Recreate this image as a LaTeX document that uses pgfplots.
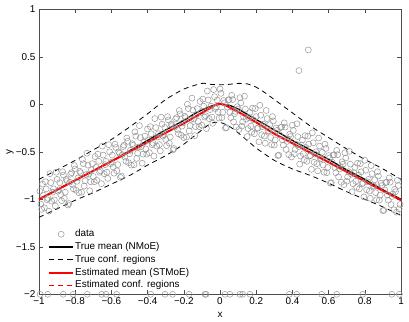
\documentclass[border=0pt]{standalone}
\usepackage{fontspec}
\setmainfont{Liberation Sans}
\usepackage{pgfplots}
\pgfplotsset{compat=1.18}
\newcommand\fs{\fontsize{9.9}{11.8}\selectfont}
\definecolor{datagray}{RGB}{150,150,150}

% x y, scatter of the observations
\pgfplotstableread{
x y
-0.995 -0.915
-0.985 -1.105
-0.975 -0.955
-0.965 -0.815
-0.955 -1.005
-0.945 -1.125
-0.935 -0.825
-0.925 -0.925
-0.915 -1.005
-0.905 -0.715
-0.895 -0.915
-0.885 -0.825
-0.875 -1.015
-0.865 -0.745
-0.855 -0.925
-0.845 -0.805
-0.835 -1.045
-0.825 -0.735
-0.815 -0.845
-0.805 -0.645
-0.795 -0.905
-0.785 -0.775
-0.775 -0.705
-0.765 -0.925
-0.755 -0.625
-0.745 -0.805
-0.735 -0.515
-0.725 -0.735
-0.715 -0.815
-0.705 -0.625
-0.695 -0.815
-0.685 -0.665
-0.675 -0.525
-0.665 -0.715
-0.655 -0.835
-0.645 -0.535
-0.635 -0.635
-0.625 -0.715
-0.615 -0.425
-0.605 -0.625
-0.595 -0.535
-0.585 -0.725
-0.575 -0.455
-0.565 -0.635
-0.555 -0.515
-0.545 -0.755
-0.535 -0.445
-0.525 -0.555
-0.515 -0.355
-0.505 -0.615
-0.495 -0.485
-0.485 -0.415
-0.475 -0.635
-0.465 -0.335
-0.455 -0.515
-0.445 -0.225
-0.435 -0.445
-0.425 -0.525
-0.415 -0.335
-0.405 -0.525
-0.395 -0.375
-0.385 -0.235
-0.375 -0.425
-0.365 -0.545
-0.355 -0.245
-0.345 -0.345
-0.335 -0.425
-0.325 -0.135
-0.315 -0.335
-0.305 -0.245
-0.295 -0.435
-0.285 -0.165
-0.275 -0.345
-0.265 -0.225
-0.255 -0.465
-0.245 -0.155
-0.235 -0.265
-0.225 -0.065
-0.215 -0.325
-0.205 -0.195
-0.195 -0.125
-0.185 -0.345
-0.175 -0.045
-0.165 -0.225
-0.155 0.065
-0.145 -0.155
-0.135 -0.235
-0.125 -0.045
-0.115 -0.235
-0.105 -0.085
-0.095 0.055
-0.085 -0.135
-0.075 -0.255
-0.065 0.045
-0.055 -0.055
-0.045 -0.135
-0.035 0.155
-0.025 -0.045
-0.015 0.045
-0.005 -0.145
0.005 0.115
0.015 -0.085
0.025 0.015
0.035 -0.245
0.045 0.045
0.055 -0.085
0.065 0.095
0.075 -0.185
0.085 -0.075
0.095 -0.025
0.105 -0.265
0.115 0.015
0.125 -0.185
0.135 0.085
0.145 -0.155
0.155 -0.255
0.165 -0.085
0.175 -0.295
0.185 -0.165
0.195 -0.045
0.205 -0.255
0.215 -0.395
0.225 -0.115
0.235 -0.235
0.245 -0.335
0.255 -0.065
0.265 -0.285
0.275 -0.215
0.285 -0.425
0.295 -0.175
0.305 -0.375
0.315 -0.275
0.325 -0.535
0.335 -0.245
0.345 -0.375
0.355 -0.195
0.365 -0.475
0.375 -0.365
0.385 -0.315
0.395 -0.555
0.405 -0.275
0.415 -0.475
0.425 -0.205
0.435 -0.445
0.445 -0.545
0.455 -0.375
0.465 -0.585
0.475 -0.455
0.485 -0.335
0.495 -0.545
0.505 -0.685
0.515 -0.405
0.525 -0.525
0.535 -0.625
0.545 -0.355
0.555 -0.575
0.565 -0.505
0.575 -0.715
0.585 -0.465
0.595 -0.665
0.605 -0.565
0.615 -0.825
0.625 -0.535
0.635 -0.665
0.645 -0.485
0.655 -0.765
0.665 -0.655
0.675 -0.605
0.685 -0.845
0.695 -0.565
0.705 -0.765
0.715 -0.495
0.725 -0.735
0.735 -0.835
0.745 -0.665
0.755 -0.875
0.765 -0.745
0.775 -0.625
0.785 -0.835
0.795 -0.975
0.805 -0.695
0.815 -0.815
0.825 -0.915
0.835 -0.645
0.845 -0.865
0.855 -0.795
0.865 -1.005
0.875 -0.755
0.885 -0.955
0.895 -0.855
0.905 -1.115
0.915 -0.825
0.925 -0.955
0.935 -0.775
0.945 -1.055
0.955 -0.945
0.965 -0.895
0.975 -1.135
0.985 -0.855
0.995 -1.055
-0.99 -1.05
-0.98 -0.84
-0.97 -1.09
-0.96 -0.89
-0.95 -0.99
-0.94 -0.73
-0.93 -1.02
-0.92 -0.89
-0.91 -1.07
-0.90 -0.79
-0.89 -0.90
-0.88 -0.95
-0.87 -0.71
-0.86 -0.99
-0.85 -0.79
-0.84 -1.06
-0.83 -0.82
-0.82 -0.72
-0.81 -0.89
-0.80 -0.68
-0.79 -0.81
-0.78 -0.93
-0.77 -0.72
-0.76 -0.58
-0.75 -0.86
-0.74 -0.74
-0.73 -0.64
-0.72 -0.91
-0.71 -0.69
-0.70 -0.76
-0.69 -0.55
-0.68 -0.80
-0.67 -0.60
-0.66 -0.70
-0.65 -0.44
-0.64 -0.73
-0.63 -0.60
-0.62 -0.78
-0.61 -0.50
-0.60 -0.61
-0.59 -0.66
-0.58 -0.42
-0.57 -0.70
-0.56 -0.50
-0.55 -0.77
-0.54 -0.53
-0.53 -0.43
-0.52 -0.60
-0.51 -0.39
-0.50 -0.52
-0.49 -0.64
-0.48 -0.43
-0.47 -0.29
-0.46 -0.57
-0.45 -0.45
-0.44 -0.35
-0.43 -0.62
-0.42 -0.40
-0.41 -0.47
-0.40 -0.26
-0.39 -0.51
-0.38 -0.31
-0.37 -0.41
-0.36 -0.15
-0.35 -0.44
-0.34 -0.31
-0.33 -0.49
-0.32 -0.21
-0.31 -0.32
-0.30 -0.37
-0.29 -0.13
-0.28 -0.41
-0.27 -0.21
-0.26 -0.48
-0.25 -0.24
-0.24 -0.14
-0.23 -0.31
-0.22 -0.10
-0.21 -0.23
-0.20 -0.35
-0.19 -0.14
-0.18 0.00
-0.17 -0.28
-0.16 -0.16
-0.15 -0.06
-0.14 -0.33
-0.13 -0.11
-0.12 -0.18
-0.11 0.03
-0.10 -0.22
-0.09 -0.02
-0.08 -0.12
-0.07 0.14
-0.06 -0.15
-0.05 -0.02
-0.04 -0.20
-0.03 0.08
-0.02 -0.03
-0.01 -0.08
0.00 0.16
0.01 -0.14
0.02 0.04
0.03 -0.25
0.04 -0.03
0.05 0.05
0.06 -0.14
0.07 0.05
0.08 -0.10
0.09 -0.24
0.10 -0.05
0.11 0.07
0.12 -0.23
0.13 -0.13
0.14 -0.05
0.15 -0.34
0.16 -0.14
0.17 -0.23
0.18 -0.04
0.19 -0.31
0.20 -0.13
0.21 -0.25
0.22 -0.01
0.23 -0.32
0.24 -0.21
0.25 -0.41
0.26 -0.15
0.27 -0.28
0.28 -0.35
0.29 -0.13
0.30 -0.43
0.31 -0.25
0.32 -0.54
0.33 -0.32
0.34 -0.24
0.35 -0.43
0.36 -0.24
0.37 -0.39
0.38 -0.53
0.39 -0.34
0.40 -0.22
0.41 -0.52
0.42 -0.42
0.43 -0.34
0.44 -0.63
0.45 -0.43
0.46 -0.52
0.47 -0.33
0.48 -0.60
0.49 -0.42
0.50 -0.54
0.51 -0.30
0.52 -0.61
0.53 -0.50
0.54 -0.70
0.55 -0.44
0.56 -0.57
0.57 -0.64
0.58 -0.42
0.59 -0.72
0.60 -0.54
0.61 -0.83
0.62 -0.61
0.63 -0.53
0.64 -0.72
0.65 -0.53
0.66 -0.68
0.67 -0.82
0.68 -0.63
0.69 -0.51
0.70 -0.81
0.71 -0.71
0.72 -0.63
0.73 -0.92
0.74 -0.72
0.75 -0.81
0.76 -0.62
0.77 -0.89
0.78 -0.71
0.79 -0.83
0.80 -0.59
0.81 -0.90
0.82 -0.79
0.83 -0.99
0.84 -0.73
0.85 -0.86
0.86 -0.93
0.87 -0.71
0.88 -1.01
0.89 -0.83
0.90 -1.12
0.91 -0.90
0.92 -0.82
0.93 -1.01
0.94 -0.82
0.95 -0.97
0.96 -1.11
0.97 -0.92
0.98 -0.80
0.99 -1.10
0.436 0.355
0.488 0.572
-0.994 -2
-0.952 -2
-0.866 -2
-0.811 -2
-0.733 -2
-0.654 -2
-0.630 -2
-0.571 -2
-0.383 -2
-0.304 -2
-0.262 -2
-0.170 -2
-0.077 -2
-0.083 -2
0.028 -2
0.055 -2
0.110 -2
0.125 -2
0.166 -2
0.383 -2
0.424 -2
0.562 -2
0.645 -2
0.788 -2
0.949 -2
0.991 -2
}\obsdata

\begin{document}
\begin{tikzpicture}
\begin{axis}[
    scale only axis,
    width=362pt, height=285pt,
    xmin=-1, xmax=1,
    ymin=-2, ymax=1,
    clip=false,
    axis line style={black!70, line width=0.6pt},
    every tick/.style={black!70, line width=0.5pt},
    tick align=inside,
    major tick length=4pt,
    xtick={-1,-0.8,-0.6,-0.4,-0.2,0,0.2,0.4,0.6,0.8,1},
    xticklabels={−1,−0.8,−0.6,−0.4,−0.2,0,0.2,0.4,0.6,0.8,1},
    ytick={-2,-1.5,-1,-0.5,0,0.5,1},
    yticklabels={−2,−1.5,−1,−0.5,0,0.5,1},
    tick label style={font=\fs},
    label style={font=\fs},
    xlabel={x}, ylabel={y},
    xlabel style={at={([yshift=-20.5pt]rel axis cs:0.5,0)}, anchor=center},
    ylabel style={at={([xshift=-29pt]rel axis cs:0,0.5)}, anchor=center},
    legend cell align=left,
    legend image code/.code={\draw[mark repeat=2,mark phase=2,#1]
        plot coordinates {(0pt,0pt) (12pt,0pt) (24pt,0pt)};},
    legend style={draw=none, fill=none, font=\fs,
        at={(axis cs:-1,-2)}, anchor=south west, xshift=9pt, yshift=3pt,
        inner sep=0pt, row sep=1.5pt,
        nodes={inner sep=1pt, text height=7pt, text depth=2.3pt}},
]
\addplot[only marks, mark=o, mark size=3pt, datagray, line width=0.5pt]
    table[x=x, y=y] {\obsdata};
\addlegendentry{data}

% true mean (NMoE)
\addplot[black, line width=1.3pt, smooth, tension=0.4] coordinates {
(-1,-1) (-0.8,-0.8) (-0.6,-0.6) (-0.5,-0.49) (-0.4,-0.38) (-0.3,-0.27)
(-0.2,-0.17) (-0.15,-0.11) (-0.1,-0.06) (-0.05,-0.02) (0,0) (0.05,-0.01)
(0.1,-0.05) (0.2,-0.16) (0.3,-0.27) (0.4,-0.38) (0.5,-0.48) (0.6,-0.58)
(0.7,-0.69) (0.8,-0.79) (0.9,-0.9) (1,-1)
};
\addlegendentry{True mean (NMoE)}

% true confidence regions
\addplot[black, line width=0.8pt, dash pattern=on 5pt off 4pt, smooth, tension=0.4] coordinates {
(-1,-0.79) (-0.9,-0.69) (-0.8,-0.59) (-0.7,-0.48) (-0.6,-0.37) (-0.5,-0.24)
(-0.4,-0.1) (-0.3,0.05) (-0.2,0.16) (-0.1,0.22) (-0.05,0.21) (0,0.205)
(0.05,0.21) (0.1,0.22) (0.15,0.215) (0.2,0.18) (0.25,0.12) (0.3,0.05)
(0.35,-0.02) (0.4,-0.09) (0.5,-0.23) (0.6,-0.35) (0.7,-0.47) (0.8,-0.58)
(0.9,-0.68) (1,-0.79)
};
\addlegendentry{True conf. regions}
\addplot[black, line width=0.8pt, dash pattern=on 5pt off 4pt, smooth, tension=0.4, forget plot] coordinates {
(-1,-1.19) (-0.9,-1.1) (-0.8,-1.01) (-0.7,-0.93) (-0.6,-0.84) (-0.5,-0.75)
(-0.4,-0.64) (-0.3,-0.54) (-0.2,-0.42) (-0.1,-0.27) (-0.05,-0.2) (0,-0.19)
(0.05,-0.23) (0.1,-0.3) (0.2,-0.46) (0.3,-0.59) (0.4,-0.68) (0.5,-0.75)
(0.6,-0.83) (0.7,-0.92) (0.8,-1.0) (0.9,-1.08) (1,-1.17)
};

% estimated mean (STMoE)
\addplot[red, line width=2pt, smooth, tension=0.4] coordinates {
(-1,-1) (-0.8,-0.8) (-0.6,-0.6) (-0.4,-0.4) (-0.3,-0.3) (-0.2,-0.2)
(-0.15,-0.145) (-0.1,-0.09) (-0.05,-0.035) (-0.02,0) (0,0.005) (0.03,-0.01)
(0.06,-0.04) (0.1,-0.08) (0.2,-0.19) (0.3,-0.31) (0.4,-0.41) (0.5,-0.51)
(0.6,-0.61) (0.7,-0.71) (0.8,-0.81) (0.9,-0.91) (1,-1.01)
};
\addlegendentry{Estimated mean (STMoE)}
\addlegendimage{red, line width=0.8pt, dash pattern=on 5pt off 4pt}
\addlegendentry{Estimated conf. regions}
\end{axis}
\path ([xshift=-39pt,yshift=-26.7pt]current axis.south west)
    rectangle ([xshift=8pt,yshift=9.3pt]current axis.north east);
\end{tikzpicture}
\end{document}
